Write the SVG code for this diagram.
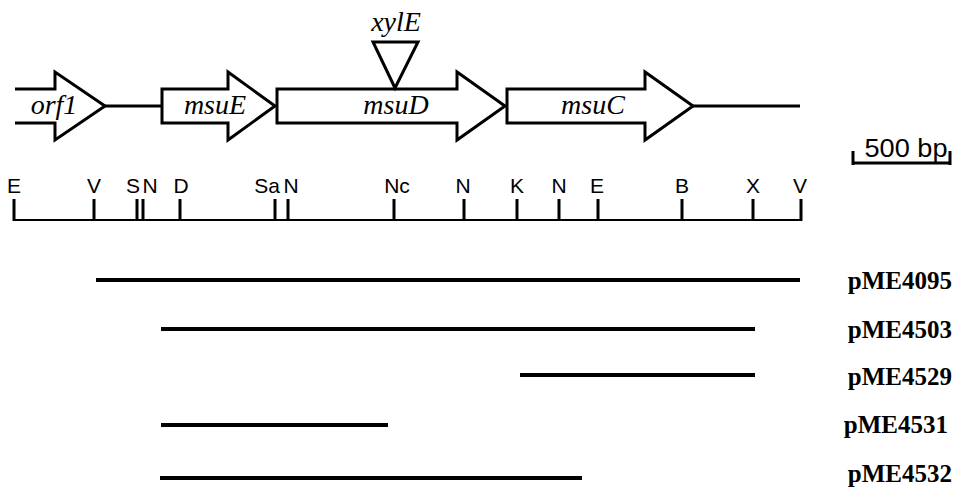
<svg xmlns="http://www.w3.org/2000/svg" width="956" height="491" viewBox="0 0 956 491">
  <style>
    .gene { fill: #fff; stroke: #000; stroke-width: 3; stroke-linejoin: miter; }
    .dna { stroke: #000; stroke-width: 3; fill: none; }
    .glabel { font-family: "Liberation Serif", "Times New Roman", serif; font-style: italic; font-size: 28px; fill: #000; text-anchor: middle; }
    .site { font-family: "Liberation Sans", Arial, sans-serif; font-size: 21px; fill: #000; text-anchor: middle; }
    .tick { stroke: #000; stroke-width: 3; }
    .axis { stroke: #000; stroke-width: 2; }
    .clone { stroke: #000; stroke-width: 4; }
    .plabel { font-family: "Liberation Serif", "Times New Roman", serif; font-weight: bold; font-size: 25px; fill: #000; text-anchor: end; }
  </style>

  <!-- intergenic DNA -->
  <g id="connectors">
    <line class="dna" x1="104" y1="106" x2="163" y2="106"/>
    <line class="dna" x1="692" y1="106" x2="800" y2="106"/>
  </g>

  <!-- gene arrows -->
  <g id="orf1">
    <path class="gene" d="M15,89 H55 V72 L105,106 L55,140 V123 H15"/>
    <text class="glabel" x="54" y="114">orf1</text>
  </g>
  <g id="msuE">
    <path class="gene" d="M162,89 H228 V72 L275,106 L228,140 V123 H162 Z"/>
    <text class="glabel" x="215" y="114">msuE</text>
  </g>
  <g id="msuD">
    <path class="gene" d="M277,89 H457 V72 L505,106 L457,140 V123 H277 Z"/>
    <text class="glabel" x="396" y="114">msuD</text>
  </g>
  <g id="msuC">
    <path class="gene" d="M507,89 H645 V72 L693,106 L645,140 V123 H507 Z"/>
    <text class="glabel" x="593" y="114">msuC</text>
  </g>
  <g id="xylE">
    <path class="gene" d="M373,42 H418 L395,88 Z"/>
    <text class="glabel" x="396" y="31">xylE</text>
  </g>

  <!-- scale bar -->
  <g id="scale">
    <path d="M853,151 V165 M853,163 H950 M950,151 V165" stroke="#000" stroke-width="3" fill="none"/>
    <text x="906" y="157" font-family="Liberation Sans, Arial, sans-serif" font-size="25" text-anchor="middle" textLength="83" lengthAdjust="spacingAndGlyphs">500 bp</text>
  </g>

  <!-- restriction map -->
  <g id="restriction-map">
    <line class="axis" x1="14" y1="220" x2="802" y2="220"/>
    <line class="tick" x1="14" y1="199" x2="14" y2="221"/>
    <line class="tick" x1="94" y1="199" x2="94" y2="221"/>
    <line class="tick" x1="137" y1="199" x2="137" y2="221"/>
    <line class="tick" x1="143" y1="199" x2="143" y2="221"/>
    <line class="tick" x1="180" y1="199" x2="180" y2="221"/>
    <line class="tick" x1="275" y1="199" x2="275" y2="221"/>
    <line class="tick" x1="288" y1="199" x2="288" y2="221"/>
    <line class="tick" x1="394" y1="199" x2="394" y2="221"/>
    <line class="tick" x1="464" y1="199" x2="464" y2="221"/>
    <line class="tick" x1="517" y1="199" x2="517" y2="221"/>
    <line class="tick" x1="559" y1="199" x2="559" y2="221"/>
    <line class="tick" x1="598" y1="199" x2="598" y2="221"/>
    <line class="tick" x1="682" y1="199" x2="682" y2="221"/>
    <line class="tick" x1="753" y1="199" x2="753" y2="221"/>
    <line class="tick" x1="801" y1="199" x2="801" y2="221"/>
    <text class="site" x="14" y="193">E</text>
    <text class="site" x="94" y="193">V</text>
    <text class="site" x="133" y="193">S</text>
    <text class="site" x="150" y="193">N</text>
    <text class="site" x="181" y="193">D</text>
    <text class="site" x="267" y="193">Sa</text>
    <text class="site" x="291" y="193">N</text>
    <text class="site" x="397" y="193">Nc</text>
    <text class="site" x="463" y="193">N</text>
    <text class="site" x="517" y="193">K</text>
    <text class="site" x="559" y="193">N</text>
    <text class="site" x="597" y="193">E</text>
    <text class="site" x="682" y="193">B</text>
    <text class="site" x="753" y="193">X</text>
    <text class="site" x="800" y="193">V</text>
  </g>

  <!-- subclones -->
  <g id="pME4095">
    <line class="clone" x1="96" y1="280" x2="800" y2="280"/>
    <text class="plabel" x="952" y="289">pME4095</text>
  </g>
  <g id="pME4503">
    <line class="clone" x1="161" y1="329" x2="755" y2="329"/>
    <text class="plabel" x="952" y="338">pME4503</text>
  </g>
  <g id="pME4529">
    <line class="clone" x1="520" y1="375" x2="755" y2="375"/>
    <text class="plabel" x="952" y="385">pME4529</text>
  </g>
  <g id="pME4531">
    <line class="clone" x1="161" y1="425" x2="388" y2="425"/>
    <text class="plabel" x="948" y="433">pME4531</text>
  </g>
  <g id="pME4532">
    <line class="clone" x1="160" y1="478" x2="582" y2="478"/>
    <text class="plabel" x="952" y="482">pME4532</text>
  </g>
</svg>
